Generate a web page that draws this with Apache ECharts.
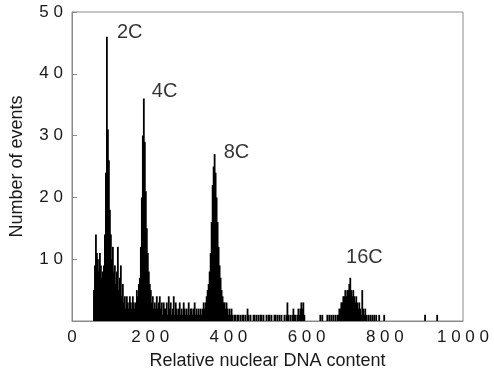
<!DOCTYPE html>
<html><head><meta charset="utf-8">
<script src="https://cdn.jsdelivr.net/npm/echarts@6/dist/echarts.min.js"></script>
<style>html,body{margin:0;padding:0;background:#fff}#c{width:494px;height:377px}</style>
</head><body><div id="c"></div>
<script>
// histogram channel width (relative DNA units)
const binWidth = 2.55;
// segments: start position + consecutive channel counts
const seg2CStart = 56.1;
const seg2CCounts = [5,9,14,11,10,8,11,9,7,8,9,14,24,46,31,26,18,14,10,12,8,9,6,8,12,5,7,9,4,6,3,4,2,4,3,2,4,3,2,4,3,2];
const seg4CStart = 163.3;
const seg4CCounts = [3,5,4,6,7,12,20,30,36,29,21,15,11,8,6,5,3,4,2,3,2,4,2,3,4,2,3,1,3,2];
const seg8CStart = 239.8;
const seg8CCounts = [2,3,1,4,2,3,1,2,4,1,3,2,1,2,3,1,2,1,3,2,1,2,1,3,1,2,2,1,2,3,1,2,1,2,1,2,1,2,3,2,3,4,5,6,8,11,16,22,25,27,24,20,16,12,9,7,5,4,3,3,2,3,2,1,2,1,2,1,0,1,1,0,1,1,0];
const segMidStart = 431.1;
const segMidCounts = [1,0,1,1,0,1,0,2,1,0,1,0,0,1,1,0,1,0,1,0,1,1,0,1,0,0,1,0,1,1,0,1,0,0,1,1,0,1,0,1,0,1,0,0,1,0,1,3,1,0,1,0,1,2,1,1,0,1,2,1,2,3,2,3,1,0,0,0,0,0,0,0,0,0,0,0,0,0,0,0,1,0,1,0,0,0,0,1,0,1,0,1,0,1,0];
const seg16CStart = 673.5;
const seg16CCounts = [1,0,1,1,2,2,3,3,4,4,5,4,5,5,6,7,5,4,5,4,3,4,3,2,3,2,1,5,2,1,2,1,0,1,0,1,0,1,0,1,0,1,0,0,1,0,0,0,0,1];
const tailPositions = [903, 934];
const tailCounts = [1, 1];

const peakNames = ['2C','4C','8C','16C'];
const peakLabelX = [115, 204, 388, 701];
const peakLabelY = [46.7, 37.2, 27.3, 10.2];

function segData(start, counts){
  const out = [];
  counts.forEach((c,i)=>{ if(c>0) out.push([start + i*binWidth, c]); });
  return out;
}
const histData = [].concat(
  segData(seg2CStart, seg2CCounts),
  segData(seg4CStart, seg4CCounts),
  segData(seg8CStart, seg8CCounts),
  segData(segMidStart, segMidCounts),
  segData(seg16CStart, seg16CCounts),
  tailPositions.map((p,i)=>[p, tailCounts[i]])
);

const spaced = v => String(v).split('').join(' ');
const FONT = '"Liberation Sans", Arial, sans-serif';
const chart = echarts.init(document.getElementById('c'), null, {renderer:'canvas'});
chart.setOption({
  animation:false,
  backgroundColor:'#fff',
  grid:{left:71, top:12, right:31, bottom:56, show:true, borderColor:'#8a8a8a', borderWidth:1, backgroundColor:'transparent'},
  xAxis:{
    type:'value', min:0, max:1000, interval:200,
    name:'Relative nuclear DNA content', nameLocation:'middle', nameGap:31,
    nameTextStyle:{fontFamily:FONT, fontSize:18, color:'#1a1a1a'},
    axisLine:{show:true, lineStyle:{color:'#8a8a8a'}},
    axisTick:{show:false},
    splitLine:{show:false},
    axisLabel:{fontFamily:FONT, fontSize:17, color:'#1a1a1a', margin:8, formatter:v=>spaced(v)}
  },
  yAxis:{
    type:'value', min:0, max:50, interval:10,
    name:'Number of events', nameLocation:'middle', nameGap:46,
    nameTextStyle:{fontFamily:FONT, fontSize:18, color:'#1a1a1a'},
    axisLine:{show:true, lineStyle:{color:'#8a8a8a'}},
    axisTick:{show:true, inside:true, length:5, lineStyle:{color:'#8a8a8a'}},
    splitLine:{show:false},
    axisLabel:{fontFamily:FONT, fontSize:17, color:'#1a1a1a', margin:9, formatter:v=> v===0 ? '' : spaced(v)}
  },
  series:[
    {type:'bar', data:histData, barWidth:1.8, itemStyle:{color:'#000'}, silent:true},
    {type:'scatter', symbolSize:0, silent:true,
     data: peakNames.map((n,i)=>({value:[peakLabelX[i], peakLabelY[i]], name:n})),
     label:{show:true, position:'right', distance:0, formatter:p=>p.name, fontFamily:FONT, fontSize:20, color:'#000'}}
  ]
});
</script></body></html>
